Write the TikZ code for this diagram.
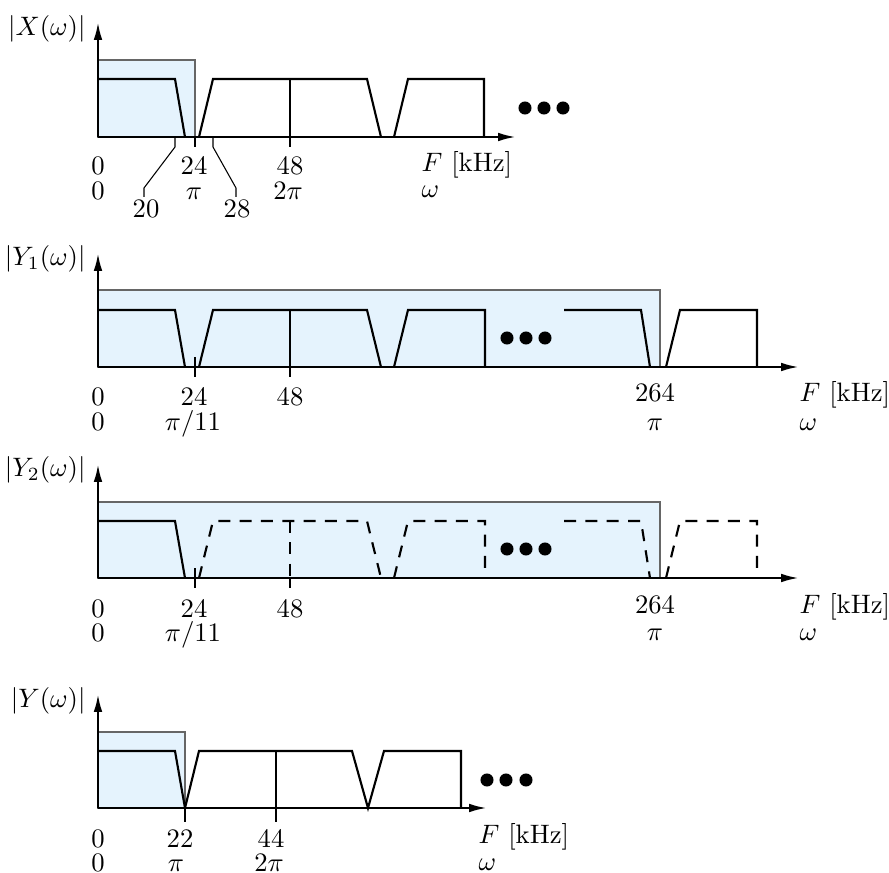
\documentclass[tikz,border=0pt]{standalone}
\usetikzlibrary{arrows.meta}
\definecolor{pass}{RGB}{229,243,253}
\begin{document}
\begin{tikzpicture}[x=0.375pt,y=-0.375pt,
  axis/.style={line width=0.55pt,-{Latex[length=6.3pt,width=3.2pt]}},
  spec/.style={line width=0.8pt,line join=miter},
  dsh/.style={spec,dash pattern=on 4.5pt off 3.5pt},
  band/.style={fill=pass,draw=black!60,line width=0.4pt},
  tickl/.style={line width=0.4pt},
  lab/.style={anchor=base,inner sep=0pt},
  labw/.style={anchor=base west,inner sep=0pt},
  ylab/.style={anchor=east,inner sep=0pt},
  dot/.style={circle,fill=black,minimum size=4.9pt,inner sep=0pt}]
\useasboundingbox (0,0) rectangle (889,873);

% ---------- Panel 1: |X(omega)| ----------
\draw[band] (98,60) rectangle (195,137);
\draw[spec] (98,79) -- (175,79) -- (185,137);
\draw[spec] (199,137) -- (213,79) -- (367,79) -- (381,137);
\draw[spec] (290,79) -- (290,137);
\draw[spec] (394,137) -- (408,79) -- (484,79) -- (484,137);
\draw[tickl] (195,137) -- (195,147);
\draw[tickl] (290,137) -- (290,147);
\coordinate (o1) at (98,137);
\coordinate (xe1) at (515,137);
\coordinate (ye1) at (98,23);
\draw[axis] (o1) -- (xe1);
\draw[axis] (o1) -- (ye1);
\node[ylab] (yl1) at (86,29) {$|X(\omega)|$};
\node[lab] (a1) at (98,175) {0};
\node[lab] (a2) at (194,175) {24};
\node[lab] (a3) at (290,175) {48};
\node[labw] (a4) at (421,172) {$F$ [kHz]};
\node[lab] (b1) at (98,200) {0};
\node[lab] (b2) at (194,200) {$\pi$};
\node[lab] (b3) at (288,200) {$2\pi$};
\node[labw] (b4) at (421,198) {$\omega$};
\node[lab] (l20) at (146,218) {20};
\node[lab] (l28) at (237,218) {28};
\coordinate (c20) at (144,197);
\coordinate (c28) at (236,197);
\draw[tickl] (175,137) -- (175,147) -- (144,188) -- (c20);
\draw[tickl] (213,137) -- (213,147) -- (236,188) -- (c28);
\node[dot] (d11) at (525,108) {};
\node[dot] (d12) at (544,108) {};
\node[dot] (d13) at (563,108) {};

% ---------- Panel 2: |Y1(omega)| ----------
\draw[band] (98,290) rectangle (660,367);
\draw[spec] (98,310) -- (175,310) -- (185,367);
\draw[spec] (199,367) -- (213,310) -- (367,310) -- (381,367);
\draw[spec] (290,310) -- (290,367);
\draw[spec] (394,367) -- (408,310) -- (485,310) -- (485,367);
\draw[spec] (564,310) -- (641,310) -- (650,367);
\draw[spec] (666,367) -- (680,310) -- (757,310) -- (757,367);
\draw[tickl] (195,357) -- (195,377);
\draw[tickl] (290,367) -- (290,377);
\coordinate (o2) at (98,367);
\coordinate (xe2) at (798,367);
\coordinate (ye2) at (98,254);
\draw[axis] (o2) -- (xe2);
\draw[axis] (o2) -- (ye2);
\node[ylab] (yl2) at (86,259) {$|Y_1(\omega)|$};
\node[lab] (e1) at (98,406) {0};
\node[lab] (e2) at (194,406) {24};
\node[lab] (e3) at (290,406) {48};
\node[lab] (e4) at (655,402) {264};
\node[labw] (e5) at (799,402) {$F$ [kHz]};
\node[lab] (f1) at (98,431) {0};
\node[lab] (f2) at (193,431) {$\pi/11$};
\node[lab] (f3) at (655,430) {$\pi$};
\node[labw] (f4) at (799,430) {$\omega$};
\node[dot] (d21) at (507,338) {};
\node[dot] (d22) at (526,338) {};
\node[dot] (d23) at (545,338) {};

% ---------- Panel 3: |Y2(omega)| ----------
\draw[band] (98,502) rectangle (660,578);
\draw[spec] (98,521) -- (175,521) -- (185,578);
\draw[dsh] (199,578) -- (213,521) -- (367,521) -- (381,578);
\draw[dsh] (290,521) -- (290,578);
\draw[dsh] (394,578) -- (408,521) -- (485,521) -- (485,578);
\draw[dsh] (564,521) -- (641,521) -- (650,578);
\draw[dsh] (666,578) -- (680,521) -- (757,521) -- (757,578);
\draw[tickl] (195,568) -- (195,588);
\draw[tickl] (290,578) -- (290,588);
\coordinate (o3) at (98,578);
\coordinate (xe3) at (798,578);
\coordinate (ye3) at (98,465);
\draw[axis] (o3) -- (xe3);
\draw[axis] (o3) -- (ye3);
\node[ylab] (yl3) at (86,470) {$|Y_2(\omega)|$};
\node[lab] (g1) at (98,617) {0};
\node[lab] (g2) at (194,617) {24};
\node[lab] (g3) at (290,617) {48};
\node[lab] (g4) at (655,613) {264};
\node[labw] (g5) at (799,613) {$F$ [kHz]};
\node[lab] (h1) at (98,641) {0};
\node[lab] (h2) at (193,641) {$\pi/11$};
\node[lab] (h3) at (655,640) {$\pi$};
\node[labw] (h4) at (799,640) {$\omega$};
\node[dot] (d31) at (507,549) {};
\node[dot] (d32) at (526,549) {};
\node[dot] (d33) at (545,549) {};

% ---------- Panel 4: |Y(omega)| ----------
\draw[band] (98,732) rectangle (185,808);
\draw[spec] (98,751) -- (175,751) -- (185,808) -- (199,751) -- (352,751) -- (368,808) -- (384,751) -- (461,751) -- (461,808);
\draw[spec] (276,751) -- (276,808);
\draw[tickl] (185,808) -- (185,822);
\draw[tickl] (276,808) -- (276,822);
\coordinate (o4) at (98,808);
\coordinate (xe4) at (486,808);
\coordinate (ye4) at (98,695);
\draw[axis] (o4) -- (xe4);
\draw[axis] (o4) -- (ye4);
\node[ylab] (yl4) at (86,701) {$|Y(\omega)|$};
\node[lab] (p1) at (98,847) {0};
\node[lab] (p2) at (180,847) {22};
\node[lab] (p3) at (271,847) {44};
\node[labw] (p4) at (478,843) {$F$ [kHz]};
\node[lab] (q1) at (98,871) {0};
\node[lab] (q2) at (176,871) {$\pi$};
\node[lab] (q3) at (269,871) {$2\pi$};
\node[labw] (q4) at (478,870) {$\omega$};
\node[dot] (d41) at (487,780) {};
\node[dot] (d42) at (506,780) {};
\node[dot] (d43) at (526,780) {};
\end{tikzpicture}
\end{document}
